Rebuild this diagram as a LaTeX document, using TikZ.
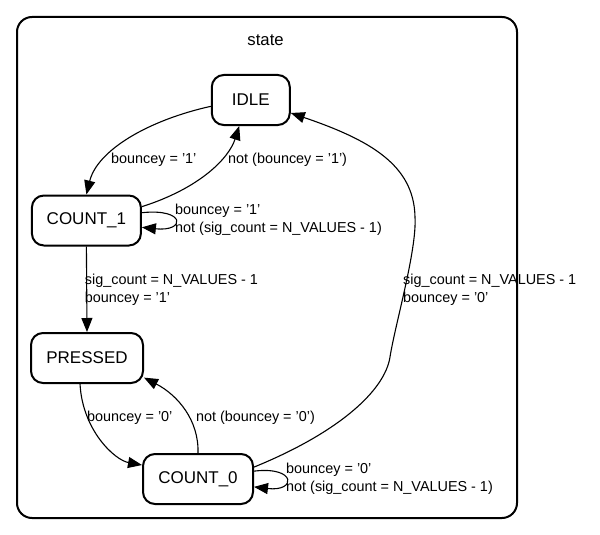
\documentclass[tikz,border=0pt]{standalone}
\usepackage{fontspec}
\setmainfont{Liberation Sans}
\usetikzlibrary{arrows.meta}
\begin{document}
\begin{tikzpicture}[x=1pt,y=-1pt,
  st/.style={draw, line width=2pt, rounded corners=12pt, minimum height=50pt, inner sep=0pt,
             font=\fontsize{17}{20}\selectfont},
  ed/.style={-{Triangle[length=14pt,width=11pt]}, line width=1.1pt},
  lb/.style={anchor=west, inner sep=0pt, align=left, font=\fontsize{14.4}{18}\selectfont},
  frame/.style={draw, line width=2pt, rounded corners=15pt}]
\useasboundingbox (0,0) rectangle (600,535);
\draw[frame] (17,17) rectangle (517,518);
\node[font=\fontsize{16.7}{19}\selectfont] (title) at (265.6,40) {state};

\node[st, minimum width=78pt] (IDLE) at (250.8,100) {IDLE};
\node[st, minimum width=109pt] (C1) at (86.4,220.5) {COUNT\_1};
\node[st, minimum width=112pt] (PR) at (87,358) {PRESSED};
\node[st, minimum width=110pt] (C0) at (198,479) {COUNT\_0};

% IDLE -> COUNT_1
\draw[ed] (IDLE.189) .. controls (148.9,120) and (97.3,150) .. (C1.north);
\node[lb] (l1) at (111,160) {bouncey = '1'};
% COUNT_1 -> IDLE
\draw[ed] (C1.14) .. controls (200.4,188) and (229,158) .. (IDLE.246);
\node[lb] (l2) at (228,160) {not (bouncey = '1')};
% COUNT_1 self loop
\draw[ed] (C1.8) .. controls (186,208) and (186,232) .. (C1.353);
\node[lb] (l3) at (175,220) {bouncey = '1'\\not (sig\_count = N\_VALUES - 1)};
% COUNT_1 -> PRESSED
\draw[ed] (C1.south) -- (PR.north);
\node[lb] (l4) at (84.7,289.5) {sig\_count = N\_VALUES - 1\\bouncey = '1'};
% PRESSED -> COUNT_0
\draw[ed] (PR.255) .. controls (82.4,430) and (114.5,460) .. (C0.166);
\node[lb] (l5) at (87,418) {bouncey = '0'};
% COUNT_0 -> PRESSED
\draw[ed] (C0.north) .. controls (199,420) and (177.5,395) .. (PR.341);
\node[lb] (l6) at (195.8,418) {not (bouncey = '0')};
% COUNT_0 -> IDLE
\draw[ed] (C0.12) .. controls (340,432) and (385,390) .. (390,357)
   .. controls (395,325) and (417,250) .. (415,217)
   .. controls (414,165) and (370,140) .. (IDLE.342);
\node[lb] (l7) at (403,289.5) {sig\_count = N\_VALUES - 1\\bouncey = '0'};
% COUNT_0 self loop
\draw[ed] (C0.8) .. controls (296.7,466) and (296.7,492) .. (C0.352);
\node[lb] (l8) at (286,479) {bouncey = '0'\\not (sig\_count = N\_VALUES - 1)};
\end{tikzpicture}
\end{document}
